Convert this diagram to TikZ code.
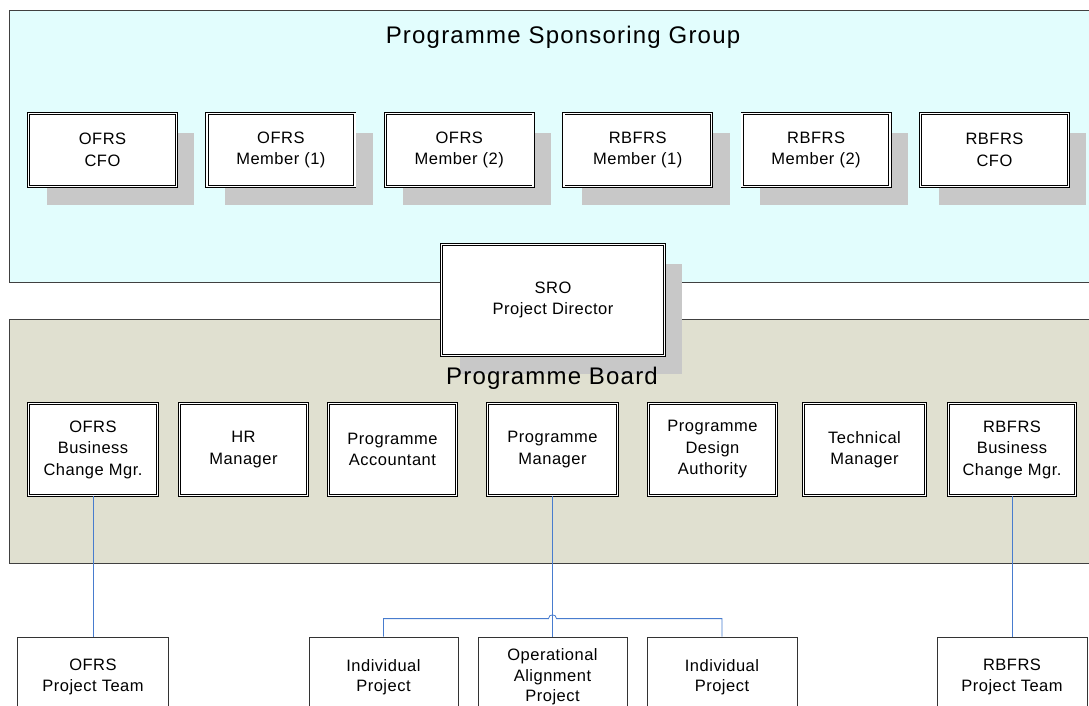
\documentclass[tikz,border=0pt]{standalone}
\usepackage{fontspec}
\setmainfont{Liberation Sans}
\newfontfamily\boxfont{Liberation Sans}[LetterSpace=3]
\newfontfamily\headfont{Liberation Sans}[LetterSpace=5]
\usetikzlibrary{shadows,calc}

\definecolor{psgcyan}{RGB}{226,253,253}
\definecolor{pbbeige}{RGB}{224,224,208}
\definecolor{shadowgrey}{RGB}{200,200,200}
\definecolor{linkblue}{RGB}{72,124,206}

\tikzset{
  panel/.style={draw=black!75,line width=0.8pt},
  heading/.style={font=\headfont\fontsize{24}{28}\selectfont},
  role/.style={draw=black,line width=0.8pt,double=white,double distance=1.6pt,
    fill=white,align=center,inner sep=0pt,
    font=\boxfont\fontsize{16.5}{21.5}\selectfont},
  castshadow/.style={drop shadow={shadow xshift=18pt,shadow yshift=-19pt,
    fill=shadowgrey,opacity=1}},
  team/.style={draw=black!80,line width=0.8pt,fill=white,align=center,
    inner sep=0pt,minimum height=80,font=\boxfont\fontsize{16.5}{20.5}\selectfont},
  link/.style={draw=linkblue,line width=0.8pt}
}

\begin{document}
\begin{tikzpicture}[x=1pt,y=-1pt]
\useasboundingbox (0,0) rectangle (1089,706);
\clip (0,0) rectangle (1089,706);

% sponsoring group
\draw[panel,fill=psgcyan] (9,10) rectangle (1100,282);
\node[heading] (psgTitle) at (563,37) {Programme Sponsoring Group};
\foreach \i/\txt in {0/{OFRS\\CFO},1/{OFRS\\Member (1)},2/{OFRS\\Member (2)},
  3/{RBFRS\\Member (1)},4/{RBFRS\\Member (2)},5/{RBFRS\\CFO}}
  \node[role,castshadow,minimum width=147.8,minimum height=72.8]
    (psg\i) at ({102.5+178.4*\i},150) {\txt};

% programme board
\draw[panel,fill=pbbeige] (9,319) rectangle (1100,563);
\foreach \n/\cx/\w/\txt in {mgrO/93/132/{OFRS\\Business\\Change Mgr.},
  hrm/243.5/131/{HR\\Manager},acc/392.5/131/{Programme\\Accountant},
  pm/552.5/133/{Programme\\Manager},pda/712.5/131/{Programme\\Design\\Authority},
  tech/864.5/125/{Technical\\Manager},mgrR/1012/130/{RBFRS\\Business\\Change Mgr.}}
  \node[role,minimum width=\w-3.2,minimum height=91.8] (\n) at (\cx,449.5) {\txt};

% SRO sits across both panels
\node[role,castshadow,minimum width=222.8,minimum height=110.8]
  (sro) at (553,300) {SRO\\Project Director};
\node[heading] (pbTitle) at (552,378) {Programme Board};

% project teams
\node[team,minimum width=151] (teamO) at (93,677) {OFRS\\Project Team};
\node[team,minimum width=149] (ip1) at (383.5,677) {Individual\\Project};
\node[team,minimum width=149] (opa) at (552.5,677) {Operational\\Alignment\\Project};
\node[team,minimum width=150] (ip2) at (722,677) {Individual\\Project};
\node[team,minimum width=150] (teamR) at (1012,677) {RBFRS\\Project Team};

% reporting lines
\coordinate (bar) at ($(opa.north)+(0,-18)$);
\draw[link] (mgrO.south) -- (teamO.north);
\draw[link] (mgrR.south) -- (teamR.north);
\draw[link] (pm.south) -- (opa.north);
\draw[link] (ip1.north) |- ($(bar)+(-4,0)$) .. controls +(0,-5) and +(0,-5) .. ($(bar)+(4,0)$) -| (ip2.north);
\end{tikzpicture}
\end{document}
